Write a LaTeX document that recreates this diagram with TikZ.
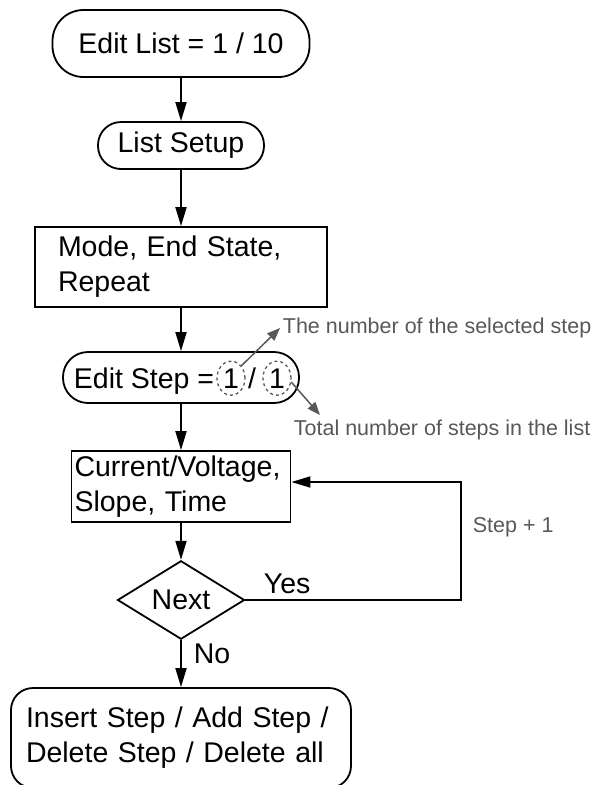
\documentclass[tikz,border=0pt]{standalone}
\usepackage{fontspec}
\setmainfont{Liberation Sans}
\usetikzlibrary{arrows.meta,shapes.geometric}
\begin{document}
\begin{tikzpicture}[
    x=1pt, y=-1pt,
    font=\fontsize{28.5}{35}\selectfont,
    line width=1.8pt,
    plainbox/.style={draw, rectangle, inner ysep=0pt, align=left},
    pill/.style={draw, rectangle, rounded corners=#1, inner sep=0pt},
    decision/.style={draw, diamond, inner sep=0pt, minimum width=127pt, minimum height=64pt},
    flow/.style={-{Triangle[length=19pt, width=11pt]}},
    note/.style={font=\fontsize{21.5}{26}\selectfont, text=NoteGray, inner sep=0pt},
    pointer/.style={draw=NoteGray, line width=1.5pt, -{Triangle[length=13pt, width=10pt, fill=NoteGray]}},
    marker/.style={draw=NoteGray, dashed, ellipse, line width=1.3pt, inner sep=0pt,
        minimum width=28pt, minimum height=34pt},
    label/.style={inner sep=0pt},
]
    \definecolor{NoteGray}{RGB}{88,88,88}
    \useasboundingbox (0,0) rectangle (596,785);

    % main column
    \node[pill=31pt, minimum width=257pt, minimum height=67pt] (listedit) at (181,43.5) {Edit List = 1 / 10};
    \node[pill=23pt, minimum width=166pt, minimum height=47pt] (listsetup) at (181,145.5) {List Setup};
    \node[plainbox, inner xsep=23pt, text width=246pt, minimum height=80pt] (modes) at (181,267)
        {Mode, End State,\\ Repeat};
    \node[pill=25pt, minimum width=236pt, minimum height=51pt] (stepedit) at (181,377.5) {};
    \node[plainbox, inner xsep=3pt, text width=213pt, minimum height=71pt] (current) at (181,486.5)
        {Current/Voltage,\\ Slope, Time};
    \node[decision] (next) at (181,600) {Next};
    \node[pill=22pt, inner xsep=15pt, text width=310pt, align=left, minimum height=100pt] (edit) at (181,738)
        {Insert Step / Add Step /\\ Delete Step / Delete all};

    % step counter inside the pill
    \node[label, anchor=base west] (stepeq) at (73,388) {Edit Step =};
    \node[marker, anchor=base] (selnum) at (231,388) {1};
    \node[label, anchor=base] (slash) at (252,388) {/};
    \node[marker, anchor=base] (totnum) at (277,388) {1};

    % notes
    \node[note, anchor=base west] (selnote) at (282,333) {The number of the selected step};
    \node[note, anchor=base west] (totnote) at (293,435) {Total number of steps in the list};
    \node[note, anchor=base west] (incr) at (472,532) {Step + 1};
    \coordinate (selend) at (280,328);
    \coordinate (totend) at (320,415);
    \draw[pointer] (selnum.50) -- (selend);
    \draw[pointer] (totnum.-15) -- (totend);

    % connectors
    \draw[flow] (listedit) -- (listsetup);
    \draw[flow] (listsetup) -- (modes);
    \draw[flow] (modes) -- (stepedit);
    \draw[flow] (stepedit) -- (current);
    \draw[flow] (current) -- (next);
    \draw[flow] (next) -- (edit);
    \coordinate (loopcorner) at (461,600);
    \draw[flow] (next.east) -- (loopcorner) |- ([yshift=4.5pt]current.east);

    \node[label, anchor=base west] (yes) at (263,593) {Yes};
    \node[label, anchor=base west] (no) at (193,663) {No};
\end{tikzpicture}
\end{document}
